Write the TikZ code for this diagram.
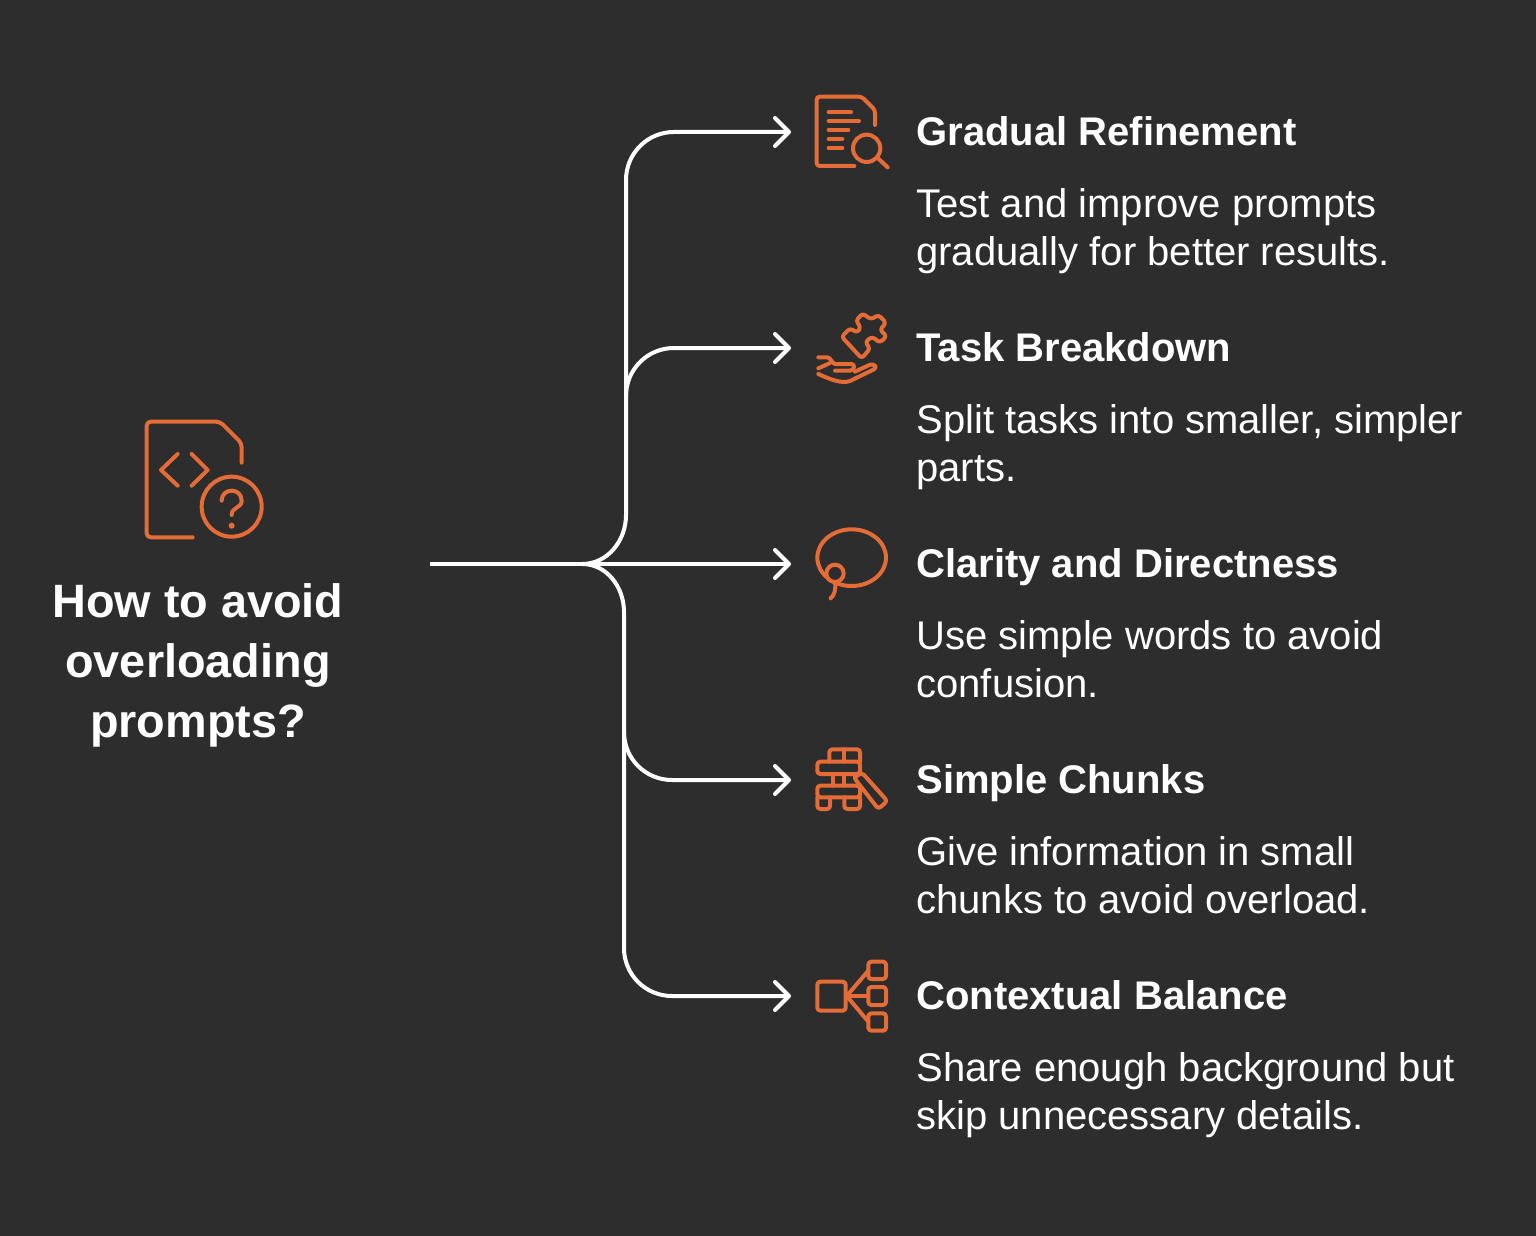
\documentclass[tikz,border=0pt]{standalone}
\usepackage{fontspec}
\setmainfont{Liberation Sans}
\usetikzlibrary{arrows.meta}
\definecolor{bgdark}{HTML}{2D2D2D}
\definecolor{iconorange}{HTML}{E56C37}
\tikzset{
	branch/.style={white, line width=2pt, -{Straight Barb[length=7pt, width=14pt, round]}},
	icon/.style={iconorange, line width=2pt, line cap=round, line join=round},
	heading/.style={white, anchor=base west, inner sep=0pt, font=\fontsize{20}{24}\selectfont\bfseries},
	detail/.style={white, anchor=north west, align=left, inner sep=0pt, font=\fontsize{20}{24}\selectfont},
	question/.style={white, align=center, inner sep=0pt, font=\fontsize{23.4}{30}\selectfont\bfseries}
}
\begin{document}
\begin{tikzpicture}[x=0.5pt, y=-0.5pt]
	\fill[bgdark] (0,0) rectangle (1536,1236);
	\useasboundingbox (0,0) rectangle (1536,1236);

	% ==================== left: question ====================
	\begin{scope}[shift={(130,410)}, scale=1/3]
		\draw[icon, rounded corners=2pt] (188,382) -- (50,382) -- (50,35) -- (270,35) -- (335,100) -- (335,158);
		\draw[icon] (143,132) -- (93,180) -- (143,227);
		\draw[icon] (185,132) -- (233,180) -- (185,227);
		\draw[icon] (305,290) circle (90);
		\draw[icon] (275,272) .. controls (275,232) and (335,232) .. (335,272) .. controls (335,295) and (305,290) .. (305,315);
		\fill[iconorange] (305,347) circle (9);
	\end{scope}
	\node[question] (howto) at (198,665) {How to avoid\\overloading\\prompts?};

	% ==================== connectors ====================
	\coordinate (start) at (430,564);
	\coordinate (hub) at (582,564);
	\coordinate (tipRefine) at (791,132);
	\coordinate (tipTask) at (791,348);
	\coordinate (tipClarity) at (791,564);
	\coordinate (tipChunks) at (791,780);
	\coordinate (tipContext) at (791,996);
	\coordinate (forkTask) at (626,396);
	\coordinate (forkChunks) at (624,732);

	\draw[branch] (start) -- (tipClarity);
	\draw[branch] (hub) to[out=0, in=-90] (626,515) -- (626,180) to[out=90, in=180] (674,132) -- (tipRefine);
	\draw[branch] (forkTask) to[out=90, in=180] (674,348) -- (tipTask);
	\draw[branch] (forkChunks) to[out=-90, in=180] (672,780) -- (tipChunks);
	\draw[branch] (hub) to[out=0, in=90] (624,612) -- (624,948) to[out=-90, in=180] (672,996) -- (tipContext);

	% ==================== icon 1: document and lens ====================
	\begin{scope}[shift={(800,85)}, scale=1/3]
		\draw[icon, rounded corners=1.5pt] (163,243) -- (50,243) -- (50,35) -- (185,35) -- (225,75) -- (225,120);
		\draw[icon] (86,82) -- (153,82);
		\draw[icon] (86,108) -- (177,108);
		\draw[icon] (86,135) -- (145,135);
		\draw[icon] (86,162) -- (127,162);
		\draw[icon] (86,190) -- (127,190);
		\draw[icon] (200,190) circle (41);
		\draw[icon] (234,220) -- (263,247);
	\end{scope}

	% ==================== icon 2: hand and puzzle piece ====================
	\begin{scope}[shift={(800,300)}, scale=1/3]
		\draw[icon, rounded corners=1.5pt] (125,110) -- (150,85) -- (172,98) -- (182,82) -- (168,62) -- (188,40) -- (212,58)
			-- (236,45) -- (258,68) -- (240,90) -- (260,108) -- (240,128) -- (216,110) -- (196,126) -- (210,146) -- (185,175) -- cycle;
		\draw[icon] (55,172) -- (82,172) .. controls (92,172) and (95,190) .. (105,192) -- (155,192) .. controls (165,192) and (165,210) .. (150,212) -- (105,212);
		\draw[icon] (55,205) -- (88,190);
		\draw[icon] (55,222) .. controls (90,238) and (125,252) .. (150,243) -- (222,208) .. controls (232,200) and (225,192) .. (210,194) -- (165,215);
	\end{scope}

	% ==================== icon 3: speech bubble ====================
	\begin{scope}[shift={(800,515)}, scale=1/3]
		\draw[icon] (155,128) ellipse [x radius=103, y radius=85];
		\draw[icon, fill=bgdark] (105,175) circle (26);
		\draw[icon] (105,201) .. controls (108,225) and (103,240) .. (92,250);
	\end{scope}

	% ==================== icon 4: stacked blocks ====================
	\begin{scope}[shift={(800,735)}, scale=1/3]
		\draw[icon, rounded corners=1.5pt] (88,80) -- (88,43) -- (180,43) -- (180,80);
		\draw[icon] (133,43) -- (133,80);
		\draw[icon, rounded corners=1.5pt] (52,80) rectangle (180,117);
		\draw[icon] (98,117) -- (98,152);
		\draw[icon] (133,117) -- (133,152);
		\draw[icon] (166,124) -- (166,130);
		\draw[icon, rounded corners=1.5pt] (52,152) rectangle (180,187);
		\draw[icon, rounded corners=1.5pt] (52,187) -- (52,222) -- (90,222) -- (90,187);
		\draw[icon, rounded corners=1.5pt] (133,187) -- (133,222) -- (180,222) -- (180,187);
		\draw[icon, rounded corners=1.5pt] (162,128) -- (186,113) -- (262,198) -- (235,222) -- cycle;
	\end{scope}

	% ==================== icon 5: tree of boxes ====================
	\begin{scope}[shift={(800,950)}, scale=1/3]
		\draw[icon, rounded corners=1.5pt] (52,95) rectangle (137,182);
		\draw[icon, rounded corners=1.5pt] (205,35) rectangle (258,87);
		\draw[icon, rounded corners=1.5pt] (205,111) rectangle (258,165);
		\draw[icon, rounded corners=1.5pt] (205,190) rectangle (258,242);
		\draw[icon] (205,62) -- (140,138) -- (205,215);
		\draw[icon] (140,138) -- (205,138);
	\end{scope}

	% ==================== text ====================
	\node[heading] (headRefine) at (916,146) {Gradual Refinement};
	\node[detail] (textRefine) at (916,188) {Test and improve prompts\\gradually for better results.};
	\node[heading] (headTask) at (916,361) {Task Breakdown};
	\node[detail] (textTask) at (916,404) {Split tasks into smaller, simpler\\parts.};
	\node[heading] (headClarity) at (916,577) {Clarity and Directness};
	\node[detail] (textClarity) at (916,620) {Use simple words to avoid\\confusion.};
	\node[heading] (headChunks) at (916,793) {Simple Chunks};
	\node[detail] (textChunks) at (916,836) {Give information in small\\chunks to avoid overload.};
	\node[heading] (headContext) at (916,1009) {Contextual Balance};
	\node[detail] (textContext) at (916,1052) {Share enough background but\\skip unnecessary details.};
\end{tikzpicture}
\end{document}
